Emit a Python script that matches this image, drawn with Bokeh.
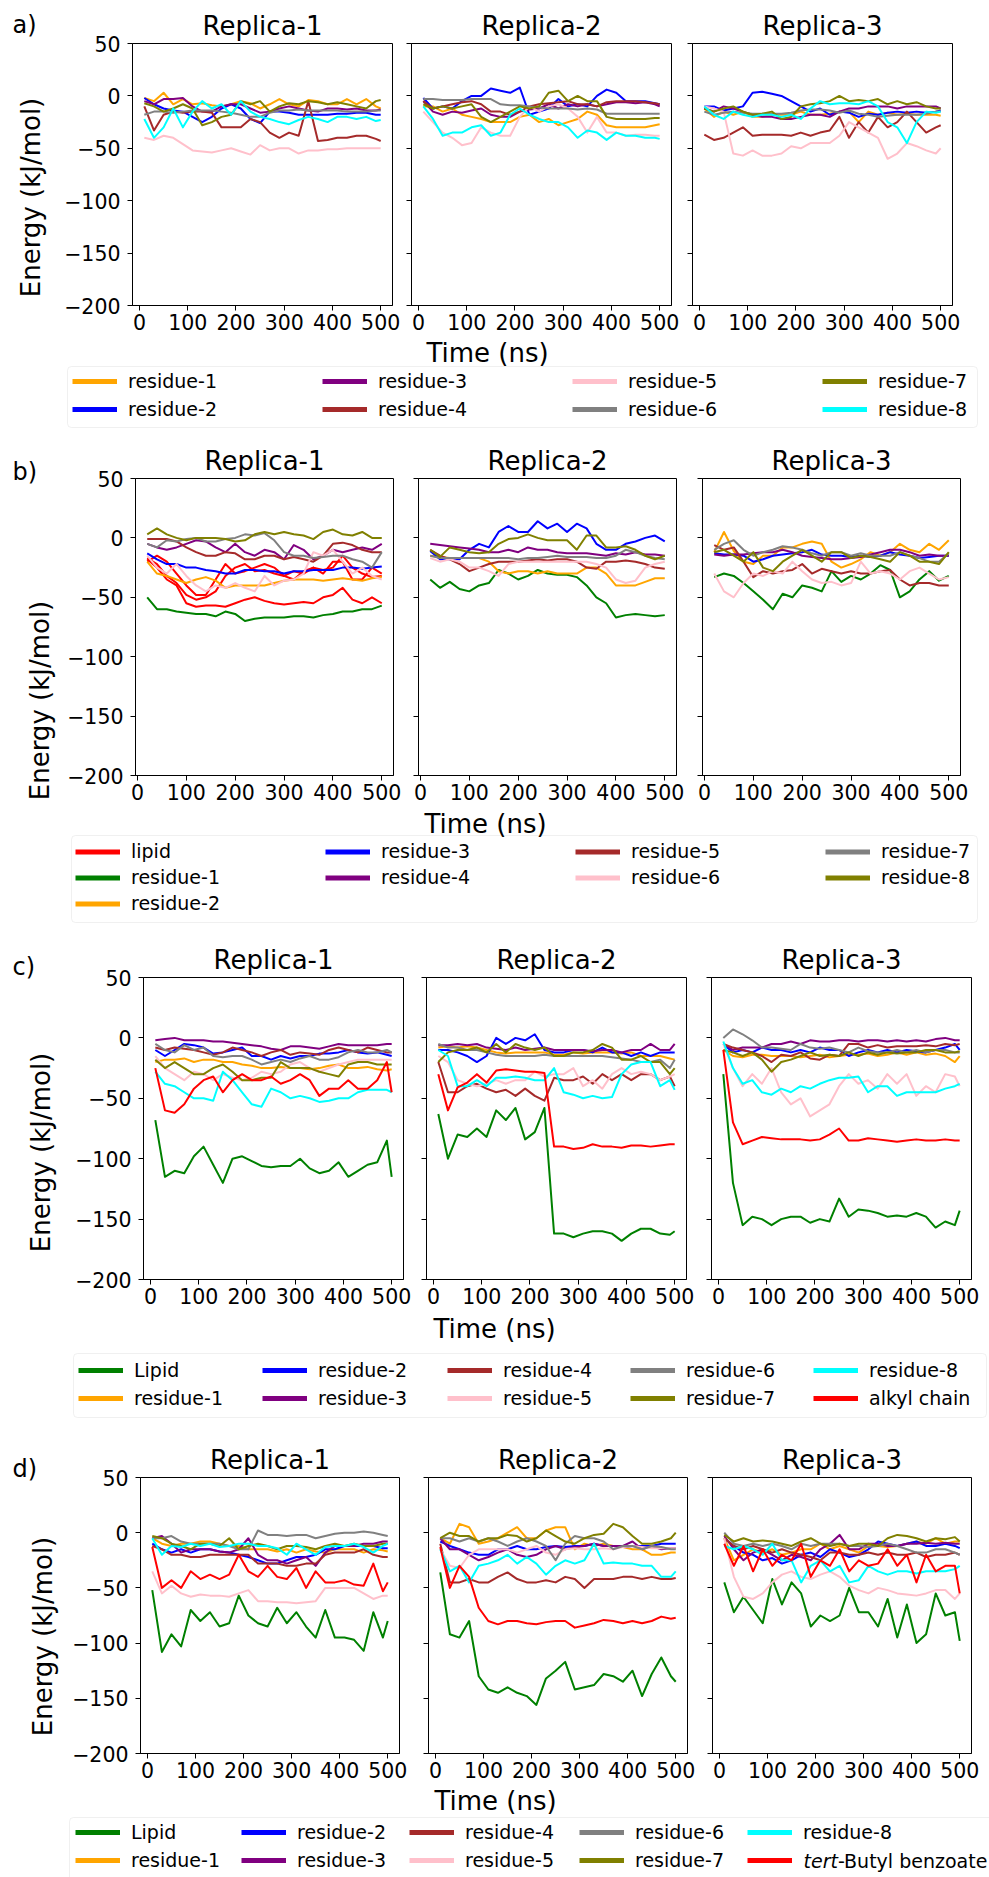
import math
from bokeh.plotting import figure
from bokeh.models import (Range1d, Label, Legend, LegendItem, FixedTicker,
                          BoxAnnotation, CustomJSTickFormatter)
from bokeh.layouts import column, row
from bokeh.embed import file_html
from bokeh.resources import INLINE

FONT = "DejaVu Sans"
PAGE_W = 989
STRIP_W = 60  # left strip holding the panel letter and the energy label

# ------------------------------------------------------------------ data
# sampling times (ns)
T = [10, 30, 50, 70, 90, 110, 130, 150, 170, 190, 210, 230, 250, 270, 290,
     310, 330, 350, 370, 390, 410, 430, 450, 470, 490, 500]
T_B = [20, 40, 60, 80, 100, 120, 140, 160, 180, 200, 220, 240, 260, 280, 300,
       320, 340, 360, 380, 400, 420, 440, 460, 480, 500]

X_TICKS = [0, 100, 200, 300, 400, 500]
Y_TICKS = [-200, -150, -100, -50, 0, 50]
REPLICAS = ["Replica-1", "Replica-2", "Replica-3"]
PANEL_LETTERS = ["a)", "b)", "c)", "d)"]

COLORS_A = {"residue-1": "orange", "residue-2": "blue", "residue-3": "purple",
            "residue-4": "brown", "residue-5": "pink", "residue-6": "gray",
            "residue-7": "olive", "residue-8": "cyan"}
COLORS_B = {"lipid": "red", "residue-1": "green", "residue-2": "orange",
            "residue-3": "blue", "residue-4": "purple", "residue-5": "brown",
            "residue-6": "pink", "residue-7": "gray", "residue-8": "olive"}
COLORS_C = {"Lipid": "green", "residue-1": "orange", "residue-2": "blue",
            "residue-3": "purple", "residue-4": "brown", "residue-5": "pink",
            "residue-6": "gray", "residue-7": "olive", "residue-8": "cyan",
            "alkyl chain": "red"}
COLORS_D = {"Lipid": "green", "residue-1": "orange", "residue-2": "blue",
            "residue-3": "purple", "residue-4": "brown", "residue-5": "pink",
            "residue-6": "gray", "residue-7": "olive", "residue-8": "cyan",
            "tert-Butyl benzoate": "red"}

# ---- a) interaction energies, replicas 1-3
A1 = {
    "residue-1": [-2, -5, 3, -8, -3, -8, -7, -9, -10, -8, -5, -7, -12, -8, -3, -8, -10, -4, -5, -8, -8, -3, -8, -3, -10, -12],
    "residue-2": [-2, -8, -12, -14, -15, -20, -25, -20, -12, -8, -12, -22, -26, -15, -15, -16, -18, -18, -18, -18, -17, -17, -16, -16, -18, -18],
    "residue-3": [-5, -8, -3, -3, -2, -10, -15, -15, -10, -8, -8, -12, -16, -15, -12, -10, -12, -14, -15, -12, -12, -13, -12, -14, -14, -13],
    "residue-4": [-10, -33, -18, -15, -16, -15, -15, -16, -30, -30, -30, -22, -25, -35, -40, -35, -38, -5, -43, -42, -40, -40, -38, -38, -41, -43],
    "residue-5": [-40, -42, -38, -40, -46, -52, -53, -54, -52, -50, -53, -56, -47, -52, -50, -50, -55, -52, -52, -51, -51, -50, -50, -50, -50, -50],
    "residue-6": [-18, -15, -15, -16, -15, -14, -14, -14, -15, -16, -18, -20, -20, -16, -14, -14, -13, -14, -14, -14, -14, -15, -15, -15, -14, -14],
    "residue-7": [-7, -10, -15, -12, -8, -12, -28, -25, -20, -18, -5, -8, -5, -15, -10, -7, -8, -5, -6, -8, -6, -8, -10, -12, -5, -4],
    "residue-8": [-22, -40, -30, -12, -30, -15, -5, -12, -8, -18, -5, -15, -20, -22, -25, -27, -23, -20, -22, -25, -20, -20, -22, -20, -24, -23],
}
A2 = {
    "residue-1": [-10, -10, -15, -12, -18, -20, -22, -25, -25, -25, -20, -18, -25, -22, -28, -25, -22, -15, -18, -28, -30, -30, -30, -30, -28, -27],
    "residue-2": [-2, -12, -10, -12, -5, 0, 0, 7, 5, 3, 8, -18, -15, -12, -3, -10, -8, -10, 0, 6, 3, -5, -5, -5, -7, -8],
    "residue-3": [-5, -15, -18, -15, -16, -14, -12, -18, -20, -20, -15, -13, -12, -8, -12, -8, -10, -8, -10, -8, -6, -6, -7, -6, -8, -10],
    "residue-4": [-5, -12, -10, -8, -6, -5, -8, -15, -15, -18, -15, -10, -8, -7, -6, -5, -8, -8, -10, -6, -5, -5, -5, -6, -7, -8],
    "residue-5": [-15, -25, -35, -40, -47, -45, -30, -35, -38, -38, -20, -10, -15, -10, -8, -12, -20, -35, -20, -35, -35, -38, -37, -37, -38, -38],
    "residue-6": [-3, -3, -4, -4, -4, -3, -3, -3, -8, -9, -9, -10, -11, -12, -12, -12, -13, -12, -13, -17, -17, -17, -17, -17, -17, -17],
    "residue-7": [-8, -12, -10, -12, -10, -8, -20, -25, -20, -15, -10, -12, -10, 3, 5, -5, 0, -5, -5, -20, -22, -22, -22, -22, -21, -21],
    "residue-8": [-10, -22, -38, -35, -35, -30, -28, -38, -35, -18, -12, -18, -22, -25, -25, -30, -40, -33, -35, -42, -35, -38, -38, -40, -40, -41],
}
A3 = {
    "residue-1": [-12, -20, -15, -18, -15, -20, -20, -18, -18, -18, -15, -18, -18, -17, -15, -15, -25, -15, -18, -16, -18, -17, -18, -18, -18, -19],
    "residue-2": [-10, -10, -14, -12, -10, 3, 4, 2, 0, -5, -10, -15, -12, -18, -15, -16, -20, -17, -18, -16, -15, -16, -15, -16, -15, -14],
    "residue-3": [-12, -15, -10, -12, -15, -18, -20, -20, -22, -22, -20, -18, -18, -20, -15, -12, -12, -10, -10, -10, -12, -10, -10, -10, -10, -12],
    "residue-4": [-37, -42, -40, -35, -30, -38, -37, -37, -37, -38, -35, -38, -35, -33, -20, -40, -25, -35, -20, -30, -25, -15, -25, -35, -30, -28],
    "residue-5": [-10, -12, -15, -55, -57, -52, -57, -57, -55, -48, -50, -45, -45, -45, -38, -25, -30, -35, -40, -60, -55, -45, -48, -52, -55, -50],
    "residue-6": [-15, -18, -16, -15, -16, -17, -17, -17, -17, -16, -14, -13, -13, -14, -16, -14, -17, -18, -20, -19, -18, -18, -18, -17, -15, -15],
    "residue-7": [-12, -15, -12, -10, -15, -18, -17, -15, -22, -20, -10, -8, -7, -5, 0, -5, -4, -5, -3, -8, -5, -8, -6, -10, -12, -12],
    "residue-8": [-10, -18, -22, -15, -18, -20, -18, -18, -20, -18, -22, -12, -5, -8, -7, -7, -8, -5, -10, -25, -30, -45, -25, -15, -16, -15],
}

# ---- b) replica 1 has three lipid contacts
B1_LIPID = [
    [-18, -25, -35, -40, -55, -58, -57, -57, -58, -55, -52, -50, -53, -55, -56, -55, -54, -55, -50, -48, -42, -52, -55, -50, -55],
    [-17, -22, -32, -38, -48, -52, -50, -45, -32, -25, -22, -28, -27, -30, -32, -35, -28, -25, -27, -25, -15, -25, -30, -33, -32],
    [-20, -15, -20, -30, -40, -48, -48, -35, -22, -30, -28, -25, -22, -25, -32, -28, -30, -25, -30, -20, -20, -35, -35, -25, -30],
]
B1 = {
    "residue-1": [-50, -60, -60, -62, -63, -64, -64, -66, -62, -64, -70, -68, -67, -67, -67, -66, -66, -67, -65, -64, -62, -62, -60, -60, -57],
    "residue-2": [-20, -30, -32, -35, -38, -35, -33, -36, -42, -40, -40, -40, -40, -38, -36, -35, -35, -35, -36, -35, -34, -35, -36, -34, -33],
    "residue-3": [-13, -18, -22, -22, -25, -25, -27, -28, -30, -30, -27, -27, -28, -28, -30, -28, -28, -27, -27, -27, -25, -25, -26, -25, -24],
    "residue-4": [-5, -8, -10, -8, -5, -2, -3, -8, -12, -5, -12, -15, -10, -12, -18, -6, -10, -18, -15, -10, -12, -10, -8, -10, -5],
    "residue-5": [-1, -1, -1, -3, -8, -12, -15, -15, -12, -13, -18, -18, -15, -15, -18, -16, -18, -20, -15, -5, -4, -6, -10, -12, -12],
    "residue-6": [-15, -25, -30, -22, -32, -40, -45, -40, -42, -38, -42, -45, -32, -40, -36, -35, -30, -12, -15, -10, -20, -30, -25, -32, -35],
    "residue-7": [-5, -8, -2, -3, -1, 0, -3, -3, -1, 0, 3, 2, 4, -2, -12, -15, -15, -17, -16, -15, -15, -18, -20, -25, -12],
    "residue-8": [3, 8, 3, 0, -2, 0, 0, 0, -1, -3, -2, 3, 5, 3, 5, 3, 2, -1, 5, 7, 3, 2, 5, 0, 0],
}
B2 = {
    "residue-1": [-35, -42, -37, -43, -45, -40, -38, -27, -30, -35, -32, -27, -30, -31, -31, -33, -40, -50, -55, -67, -65, -64, -65, -66, -65],
    "residue-2": [-15, -16, -17, -17, -17, -17, -20, -28, -30, -28, -28, -30, -28, -30, -30, -30, -25, -25, -30, -40, -40, -40, -37, -34, -34],
    "residue-3": [-11, -18, -18, -18, -10, -5, -8, 5, 10, 5, 5, 14, 8, 12, 5, 12, 8, -5, -10, -10, -5, -3, 0, 2, -3],
    "residue-4": [-5, -6, -7, -8, -9, -10, -12, -12, -10, -12, -8, -10, -10, -12, -13, -13, -13, -14, -15, -13, -14, -12, -14, -14, -15],
    "residue-5": [-10, -15, -18, -22, -28, -25, -22, -20, -20, -20, -19, -18, -19, -18, -18, -20, -25, -26, -20, -20, -19, -20, -22, -25, -26],
    "residue-6": [-17, -20, -18, -20, -25, -25, -28, -32, -22, -20, -20, -20, -20, -20, -20, -20, -20, -22, -25, -35, -38, -36, -25, -22, -20],
    "residue-7": [-15, -17, -17, -17, -17, -17, -17, -17, -17, -18, -17, -17, -16, -15, -16, -16, -16, -17, -17, -15, -10, -12, -15, -17, -18],
    "residue-8": [-10, -16, -8, -10, -12, -13, -12, -5, -1, 0, 3, 0, -2, -2, -2, -10, 2, 2, -8, -8, -7, -10, -15, -18, -15],
}
B3 = {
    "residue-1": [-33, -30, -32, -38, -45, -52, -60, -47, -50, -40, -42, -45, -28, -37, -32, -35, -30, -23, -27, -50, -45, -35, -28, -36, -32],
    "residue-2": [-12, 5, -11, -20, -22, -15, -15, -8, -8, -5, -3, -5, -20, -25, -22, -18, -12, -15, -12, -5, -10, -12, -5, -10, -2],
    "residue-3": [-13, -14, -14, -15, -20, -18, -15, -14, -13, -12, -10, -14, -15, -15, -16, -15, -16, -15, -12, -14, -15, -17, -16, -15, -15],
    "residue-4": [-14, -15, -14, -14, -13, -12, -12, -10, -12, -15, -16, -17, -18, -18, -17, -16, -14, -12, -10, -10, -12, -15, -14, -15, -15],
    "residue-5": [-6, -10, -8, -20, -33, -28, -30, -28, -27, -22, -30, -26, -28, -30, -28, -30, -30, -28, -27, -35, -40, -38, -38, -40, -40],
    "residue-6": [-30, -45, -50, -38, -30, -32, -28, -30, -20, -28, -35, -38, -37, -40, -38, -20, -30, -28, -30, -35, -28, -25, -30, -35, -33],
    "residue-7": [-10, -5, -2, -10, -15, -12, -10, -7, -8, -10, -13, -15, -12, -12, -15, -13, -15, -15, -15, -12, -15, -17, -20, -20, -13],
    "residue-8": [-12, -10, -15, -20, -12, -25, -28, -20, -15, -10, -15, -20, -12, -12, -17, -15, -16, -18, -20, -12, -15, -20, -20, -22, -12],
}

# ---- c)
C1 = {
    "Lipid": [-68, -115, -110, -112, -98, -90, -105, -120, -100, -98, -102, -106, -107, -106, -106, -100, -108, -112, -110, -103, -115, -110, -105, -103, -85, -115],
    "residue-1": [-20, -18, -18, -17, -20, -18, -18, -20, -20, -22, -23, -25, -25, -24, -25, -25, -26, -25, -23, -22, -25, -25, -24, -26, -27, -26],
    "residue-2": [-10, -15, -10, -5, -6, -8, -13, -12, -10, -8, -15, -15, -18, -15, -17, -15, -15, -13, -13, -12, -10, -12, -13, -12, -14, -15],
    "residue-3": [-2, -1, 0, -2, -2, -2, -3, -3, -4, -5, -6, -7, -9, -10, -7, -7, -8, -9, -7, -5, -6, -6, -6, -6, -5, -5],
    "residue-4": [-8, -10, -8, -9, -10, -12, -14, -12, -8, -10, -12, -15, -12, -10, -14, -12, -13, -14, -10, -8, -10, -12, -8, -10, -12, -12],
    "residue-5": [-15, -25, -30, -35, -28, -30, -35, -30, -33, -35, -33, -28, -30, -28, -22, -20, -25, -28, -25, -22, -20, -18, -18, -18, -18, -18],
    "residue-6": [-5, -10, -12, -6, -10, -8, -15, -16, -15, -15, -18, -22, -20, -18, -20, -17, -15, -18, -18, -16, -12, -10, -12, -12, -10, -12],
    "residue-7": [-18, -25, -20, -25, -30, -30, -25, -22, -28, -35, -35, -33, -33, -20, -25, -25, -25, -28, -30, -32, -22, -20, -20, -22, -22, -22],
    "residue-8": [-28, -38, -40, -45, -50, -50, -52, -28, -35, -45, -55, -57, -42, -45, -50, -48, -50, -53, -52, -50, -50, -45, -43, -43, -43, -45],
    "alkyl chain": [-25, -60, -62, -55, -42, -35, -32, -45, -35, -30, -35, -35, -32, -38, -35, -30, -35, -48, -42, -42, -35, -42, -42, -35, -20, -45],
}
C2 = {
    "Lipid": [-63, -100, -80, -82, -75, -82, -60, -68, -58, -84, -78, -58, -162, -162, -165, -162, -160, -160, -162, -168, -162, -158, -158, -162, -163, -160],
    "residue-1": [-8, -7, -8, -7, -8, -10, -12, -13, -12, -12, -12, -12, -14, -14, -12, -13, -12, -12, -12, -13, -12, -15, -15, -15, -17, -18],
    "residue-2": [-10, -10, -12, -15, -20, -15, 0, -5, 0, -2, 3, -10, -12, -12, -10, -10, -12, -8, -12, -12, -15, -12, -15, -12, -12, -12],
    "residue-3": [-6, -6, -5, -6, -5, -8, -9, -10, -8, -10, -9, -8, -10, -10, -10, -10, -11, -10, -10, -12, -10, -10, -5, -10, -10, -5],
    "residue-4": [-20, -45, -45, -40, -38, -42, -45, -43, -48, -42, -48, -52, -33, -35, -35, -32, -38, -30, -35, -30, -35, -30, -30, -35, -32, -40],
    "residue-5": [-15, -20, -35, -38, -40, -38, -35, -38, -35, -35, -28, -32, -30, -30, -25, -40, -35, -42, -30, -25, -30, -28, -30, -35, -32, -30],
    "residue-6": [-5, -8, -8, -10, -10, -12, -14, -15, -15, -15, -15, -14, -15, -15, -15, -15, -15, -15, -16, -17, -18, -20, -20, -18, -25, -18],
    "residue-7": [-20, -12, -10, -10, -8, -12, -5, -12, -5, -8, -10, -8, -15, -15, -12, -12, -10, -5, -8, -18, -18, -15, -20, -20, -30, -25],
    "residue-8": [-10, -15, -40, -40, -35, -40, -33, -33, -32, -33, -35, -35, -25, -45, -47, -50, -48, -50, -49, -30, -22, -20, -20, -40, -35, -43],
    "alkyl chain": [-30, -60, -41, -37, -30, -37, -27, -26, -27, -28, -28, -29, -90, -90, -92, -91, -88, -90, -90, -91, -89, -89, -90, -89, -88, -88],
}
C3 = {
    "Lipid": [-30, -120, -155, -148, -150, -155, -150, -148, -148, -153, -150, -152, -133, -148, -142, -143, -145, -148, -147, -148, -145, -148, -157, -152, -155, -143],
    "residue-1": [-10, -15, -16, -14, -14, -15, -15, -15, -16, -15, -14, -16, -15, -14, -14, -13, -15, -14, -12, -14, -12, -14, -13, -15, -20, -15],
    "residue-2": [-5, -12, -10, -12, -8, -10, -10, -12, -10, -12, -8, -10, -10, -15, -12, -10, -12, -10, -12, -10, -11, -12, -10, -8, -5, -10],
    "residue-3": [-5, -10, -8, -8, -8, -5, -5, -3, -5, -2, -3, -3, -2, -2, -3, -2, -2, -3, -2, -3, -2, -3, -1, 0, -2, -2],
    "residue-4": [-5, -8, -10, -12, -15, -20, -14, -15, -12, -17, -18, -14, -15, -5, -5, -8, -6, -8, -7, -7, -7, -6, -7, -5, -6, -5],
    "residue-5": [-5, -25, -40, -30, -38, -25, -45, -55, -50, -65, -60, -55, -40, -30, -38, -35, -42, -30, -38, -30, -48, -40, -45, -30, -32, -40],
    "residue-6": [0, 7, 3, -2, -8, -8, -9, -10, -5, -8, -9, -8, -10, -12, -8, -11, -12, -12, -10, -12, -10, -12, -10, -10, -12, -12],
    "residue-7": [-10, -12, -15, -12, -18, -28, -20, -18, -15, -12, -15, -14, -15, -12, -15, -12, -14, -12, -13, -12, -12, -10, -10, -12, -12, -11],
    "residue-8": [-3, -25, -38, -35, -45, -47, -42, -45, -40, -42, -38, -35, -33, -33, -32, -45, -40, -40, -48, -45, -45, -45, -45, -42, -40, -38],
    "alkyl chain": [-10, -70, -88, -85, -82, -83, -84, -84, -84, -85, -84, -80, -75, -85, -85, -83, -84, -85, -86, -85, -84, -85, -85, -84, -85, -85],
}

# ---- d)
D1 = {
    "Lipid": [-52, -108, -92, -103, -70, -80, -72, -85, -82, -57, -75, -82, -85, -68, -82, -72, -85, -95, -70, -95, -95, -97, -107, -72, -95, -80],
    "residue-1": [-5, -10, -12, -10, -10, -8, -8, -10, -12, -12, -15, -15, -15, -17, -15, -18, -15, -17, -18, -15, -15, -15, -18, -15, -16, -17],
    "residue-2": [-10, -15, -18, -15, -18, -15, -15, -17, -18, -20, -22, -25, -28, -28, -25, -22, -22, -20, -15, -15, -12, -12, -12, -12, -14, -14],
    "residue-3": [-5, -3, -10, -18, -15, -15, -15, -17, -18, -15, -5, -20, -25, -25, -28, -25, -22, -30, -18, -12, -12, -12, -10, -10, -8, -8],
    "residue-4": [-12, -15, -20, -20, -22, -22, -20, -20, -20, -20, -20, -28, -28, -28, -30, -30, -28, -28, -20, -18, -18, -18, -15, -20, -22, -22],
    "residue-5": [-35, -55, -48, -55, -58, -56, -57, -57, -58, -55, -52, -62, -62, -63, -63, -64, -63, -62, -50, -50, -50, -50, -55, -60, -57, -57],
    "residue-6": [-5, -5, -3, -8, -10, -10, -10, -10, -12, -15, -15, 2, -2, -2, -3, -2, -2, -5, -3, -1, 0, 0, 1, 0, -2, -3],
    "residue-7": [-3, -5, -10, -12, -15, -10, -10, -12, -5, -15, -12, -10, -12, -15, -12, -12, -13, -15, -12, -10, -12, -10, -12, -12, -10, -10],
    "residue-8": [-5, -20, -12, -13, -10, -12, -10, -13, -12, -10, -10, -12, -12, -14, -20, -10, -15, -20, -13, -12, -12, -10, -13, -18, -12, -10],
    "tert-Butyl benzoate": [-13, -50, -43, -50, -35, -42, -38, -42, -38, -20, -35, -40, -30, -40, -42, -32, -50, -35, -45, -45, -43, -47, -48, -28, -53, -45],
}
D2 = {
    "Lipid": [-36, -92, -95, -80, -130, -142, -145, -140, -145, -148, -156, -132, -125, -117, -142, -140, -138, -128, -130, -135, -125, -148, -128, -113, -130, -135],
    "residue-1": [-5, -10, 8, 5, -10, -8, -5, 0, 5, -5, -5, 2, 5, 5, -15, -10, -12, -10, -12, -13, -15, -15, -20, -20, -18, -18],
    "residue-2": [-8, -12, -15, -18, -20, -20, -15, -15, -12, -15, -15, -13, -12, -13, -12, -12, -10, -12, -12, -13, -12, -12, -12, -10, -10, -10],
    "residue-3": [-5, -15, -15, -20, -25, -22, -18, -15, -20, -22, -20, -15, -12, -15, -13, -12, -10, -12, -12, -12, -8, -15, -12, -15, -14, -14],
    "residue-4": [-10, -45, -45, -42, -45, -45, -40, -36, -42, -45, -45, -43, -45, -40, -42, -50, -42, -42, -42, -40, -40, -42, -40, -42, -42, -41],
    "residue-5": [-15, -30, -32, -20, -15, -15, -15, -15, -18, -15, -12, -18, -20, -15, -14, -15, -15, -14, -15, -13, -12, -13, -14, -14, -14, -14],
    "residue-6": [-5, -5, -8, -5, -8, -5, -8, -12, -8, -5, -8, -12, -25, -10, -3, -5, -5, -8, -15, -12, -12, -15, -12, -13, -15, -15],
    "residue-7": [-5, 0, -3, -3, -8, -5, -5, -2, -3, -8, -5, 2, -3, -8, -10, -5, -2, -1, 8, 5, -3, -10, -10, -8, -5, 0],
    "residue-8": [-15, -35, -30, -45, -30, -28, -25, -20, -28, -22, -28, -38, -30, -25, -28, -25, -10, -28, -27, -28, -28, -30, -30, -40, -40, -35],
    "tert-Butyl benzoate": [-13, -50, -30, -40, -68, -80, -83, -80, -80, -82, -83, -81, -80, -80, -86, -84, -82, -79, -80, -82, -80, -82, -80, -76, -78, -77],
}
D3 = {
    "Lipid": [-45, -72, -58, -70, -82, -42, -65, -45, -55, -85, -75, -80, -75, -50, -72, -72, -85, -60, -95, -65, -100, -92, -55, -75, -72, -98],
    "residue-1": [-5, -25, -20, -15, -18, -15, -20, -18, -15, -15, -10, -15, -12, -15, -18, -12, -12, -13, -12, -10, -8, -10, -5, -10, -8, -8],
    "residue-2": [-5, -12, -18, -20, -25, -23, -28, -25, -20, -18, -22, -15, -18, -22, -20, -15, -8, -10, -12, -10, -8, -12, -12, -10, -12, -14],
    "residue-3": [-3, -15, -25, -18, -15, -20, -25, -20, -22, -25, -15, -10, -2, -15, -15, -10, -10, -12, -12, -10, -10, -9, -10, -9, -10, -10],
    "residue-4": [-5, -12, -15, -12, -15, -18, -15, -18, -20, -22, -25, -18, -18, -20, -20, -18, -20, -18, -20, -20, -18, -22, -20, -20, -18, -20],
    "residue-5": [-5, -40, -58, -60, -55, -45, -38, -35, -40, -42, -38, -35, -40, -48, -52, -55, -50, -52, -55, -56, -57, -55, -52, -52, -60, -55],
    "residue-6": [0, -10, -12, -10, -12, -10, -12, -15, -10, -12, -10, -10, -10, -12, -12, -13, -12, -10, -12, -15, -18, -18, -15, -15, -18, -20],
    "residue-7": [-2, -8, -5, -8, -7, -8, -10, -12, -8, -5, -10, -12, -10, -12, -10, -10, -12, -5, -2, -3, -5, -8, -5, -6, -4, -8],
    "residue-8": [-12, -15, -12, -15, -20, -10, -25, -25, -45, -30, -25, -35, -30, -45, -43, -30, -35, -38, -35, -35, -37, -35, -35, -35, -33, -30],
    "tert-Butyl benzoate": [-10, -30, -12, -35, -15, -30, -20, -25, -10, -40, -25, -30, -15, -35, -25, -30, -28, -15, -30, -20, -45, -20, -35, -30, -30, -55],
}

LEGEND_A = [["residue-1", "residue-2"], ["residue-3", "residue-4"],
            ["residue-5", "residue-6"], ["residue-7", "residue-8"]]
LEGEND_B = [["lipid", "residue-1", "residue-2"], ["residue-3", "residue-4"],
            ["residue-5", "residue-6"], ["residue-7", "residue-8"]]
LEGEND_C = [["Lipid", "residue-1"], ["residue-2", "residue-3"], ["residue-4", "residue-5"],
            ["residue-6", "residue-7"], ["residue-8", "alkyl chain"]]
LEGEND_D = [["Lipid", "residue-1"], ["residue-2", "residue-3"], ["residue-4", "residue-5"],
            ["residue-6", "residue-7"], ["residue-8", "tert-Butyl benzoate"]]


def panel_series(d, lipids=None):
    out = []
    if lipids:
        out += [("lipid", ys) for ys in lipids]
    out += list(d.items())
    return out


# ------------------------------------------------------------------ layout (page pixels)
# text positions are the vertical middle of each label
ROWS = [
    dict(series=[panel_series(A1), panel_series(A2), panel_series(A3)], colors=COLORS_A,
         times=T, x_range=(-14.5, 524.5), fig_y=(0, 337), frame_y=(43, 305),
         fig_x=[0, 401, 681, PAGE_W], frames=[(132, 392), (411, 671), (692, 952)],
         letter_at=(12, 24), ylabel_at=(30, 197)),
    dict(series=[panel_series(B1, B1_LIPID), panel_series(B2), panel_series(B3)], colors=COLORS_B,
         times=T_B, x_range=(-4, 524), fig_y=(440, 807), frame_y=(478, 775),
         fig_x=[0, 405, 689, PAGE_W], frames=[(135, 393), (418, 676), (702, 960)],
         letter_at=(12, 471), ylabel_at=(39, 700)),
    dict(series=[panel_series(C1), panel_series(C2), panel_series(C3)], colors=COLORS_C,
         times=T, x_range=(-14.5, 524.5), fig_y=(935, 1311), frame_y=(977, 1279),
         fig_x=[0, 414, 698, PAGE_W], frames=[(143, 403), (426, 686), (711, 971)],
         letter_at=(12, 966), ylabel_at=(40, 1152)),
    dict(series=[panel_series(D1), panel_series(D2), panel_series(D3)], colors=COLORS_D,
         times=T, x_range=(-14.5, 524.5), fig_y=(1430, 1785), frame_y=(1477, 1753),
         fig_x=[0, 413, 700, PAGE_W], frames=[(140, 399), (428, 687), (712, 971)],
         letter_at=(12, 1468), ylabel_at=(42, 1636)),
]

LEGENDS = [
    dict(columns=LEGEND_A, colors=COLORS_A, fig_y=(337, 440), box=(67, 977, 366, 427),
         rows=[381, 409], cols=[72, 322, 572, 822], glyph_h=24, spacing=4,
         xlabel_at=(487, 352)),
    dict(columns=LEGEND_B, colors=COLORS_B, fig_y=(807, 935), box=(71, 977, 835, 922),
         rows=[851, 877, 903], cols=[75, 325, 575, 825], glyph_h=23, spacing=3,
         xlabel_at=(485, 823)),
    dict(columns=LEGEND_C, colors=COLORS_C, fig_y=(1311, 1430), box=(73, 986, 1353, 1417),
         rows=[1370, 1398], cols=[78, 262, 447, 630, 813], glyph_h=24, spacing=4,
         xlabel_at=(494, 1328)),
    dict(columns=LEGEND_D, colors=COLORS_D, fig_y=(1785, 1877), box=(69, 995, 1817, 1885),
         rows=[1832, 1860], cols=[75, 241, 409, 579, 747], glyph_h=24, spacing=4,
         xlabel_at=(495, 1800)),
]

MINUS_FMT = "return tick < 0 ? '\u2212' + Math.abs(tick) : '' + tick;"
BLANK_FMT = "return '';"


def strip_figure(width, height):
    """A plain figure whose frame fills the whole canvas (1 data unit = 1 px)."""
    p = figure(width=width, height=height, x_range=Range1d(0, width), y_range=Range1d(0, height),
               output_backend="svg", toolbar_location=None,
               x_axis_location=None, y_axis_location=None,
               min_border_left=0, min_border_right=0, min_border_top=0, min_border_bottom=0)
    p.title.text = ""
    p.title.standoff = 0
    p.title.visible = False
    p.background_fill_color = "white"
    p.border_fill_color = "white"
    p.outline_line_color = None
    p.xgrid.visible = False
    p.ygrid.visible = False
    return p


def text(x, y, s, size, align="center", angle=0.0, style="normal"):
    return Label(x=x, y=y, text=s, text_font=FONT, text_font_size=size, text_color="black",
                 text_align=align, text_baseline="middle", angle=angle, text_font_style=style)


def build_row(k, spec):
    top, bottom = spec["fig_y"]
    ftop, fbot = spec["frame_y"]
    fig_h = bottom - top

    left = strip_figure(STRIP_W, fig_h)
    lx, ly = spec["letter_at"]
    left.add_layout(text(lx, fig_h - (ly - top), PANEL_LETTERS[k], "24px", align="left"))
    yx, yy = spec["ylabel_at"]
    left.add_layout(text(yx, fig_h - (yy - top), "Energy (kJ/mol)", "26px", angle=math.pi / 2))

    panels = []
    for i in range(3):
        x0 = max(spec["fig_x"][i], STRIP_W)
        x1 = spec["fig_x"][i + 1]
        fl, fr = spec["frames"][i]
        p = figure(width=x1 - x0, height=fig_h, title=REPLICAS[i],
                   x_range=Range1d(*spec["x_range"]), y_range=Range1d(-200, 50),
                   output_backend="svg", toolbar_location=None,
                   min_border_left=fl - x0, min_border_right=x1 - fr,
                   min_border_top=ftop - top, min_border_bottom=bottom - fbot)
        p.title.align = "center"
        p.title.text_font = FONT
        p.title.text_font_size = "26px"
        p.title.text_font_style = "normal"
        p.title.text_color = "black"
        p.title.standoff = 6
        p.background_fill_color = "white"
        p.border_fill_color = "white"
        p.outline_line_color = "black"
        p.outline_line_width = 1
        p.xgrid.visible = False
        p.ygrid.visible = False
        for ax in (p.xaxis[0], p.yaxis[0]):
            ax.axis_line_color = "black"
            ax.major_tick_line_color = "black"
            ax.major_tick_out = 5
            ax.major_tick_in = 0
            ax.minor_tick_line_color = None
            ax.major_label_text_font = FONT
            ax.major_label_text_font_size = "20.5px"
            ax.major_label_text_color = "black"
        p.xaxis[0].ticker = FixedTicker(ticks=X_TICKS)
        p.yaxis[0].ticker = FixedTicker(ticks=Y_TICKS)
        p.xaxis[0].major_label_standoff = 3
        if i == 0:
            p.yaxis[0].formatter = CustomJSTickFormatter(code=MINUS_FMT)
            p.yaxis[0].major_label_standoff = 7
        else:
            p.yaxis[0].formatter = CustomJSTickFormatter(code=BLANK_FMT)
            p.yaxis[0].major_label_standoff = 0

        for name, ys in spec["series"][i]:
            p.line(spec["times"], ys, line_color=spec["colors"][name], line_width=2,
                   line_join="round")
        panels.append(p)
    # the strip sits outside the inner row so its frame keeps the full strip height
    return row(left, row(*panels))


def build_legend(spec):
    top, bottom = spec["fig_y"]
    h = bottom - top
    p = strip_figure(PAGE_W, h)

    tx, ty = spec["xlabel_at"]
    p.add_layout(text(tx, h - (ty - top), "Time (ns)", "26px"))

    bl, br, bt, bb = spec["box"]
    p.add_layout(BoxAnnotation(left=bl, right=br, top=h - (bt - top), bottom=h - (bb - top),
                               fill_color="white", fill_alpha=1.0,
                               line_color="#cccccc", line_width=1, border_radius=4,
                               level="underlay"))
    gh, sp = spec["glyph_h"], spec["spacing"]
    first_center = spec["rows"][0] - top
    nan = float("nan")
    for j, names in enumerate(spec["columns"]):
        items = []
        for r_i, name in enumerate(names):
            proxy = p.line(x=[nan], y=[nan], line_color=spec["colors"][name], line_width=5)
            label = name
            if name.startswith("tert-"):
                label = " "
                lx = spec["cols"][j] + 45 + 11
                ly = h - (spec["rows"][r_i] - top)
                p.add_layout(text(lx, ly, "tert", "19px", align="left", style="italic"))
                p.add_layout(text(lx + 34.4, ly, "-Butyl benzoate", "19px", align="left"))
            items.append(LegendItem(label=label, renderers=[proxy]))
        n = len(names)
        leg_h = n * gh + (n - 1) * sp
        leg_bottom = first_center - gh / 2 + leg_h
        legend = Legend(items=items, location=(spec["cols"][j], h - leg_bottom),
                        orientation="vertical", padding=0, margin=0, spacing=sp,
                        glyph_width=45, glyph_height=gh, label_height=gh,
                        label_standoff=11, label_text_font=FONT,
                        label_text_font_size="19px", label_text_color="black",
                        background_fill_alpha=0, border_line_color=None)
        p.add_layout(legend)
    return p


blocks = []
for k, (rspec, lspec) in enumerate(zip(ROWS, LEGENDS)):
    blocks.append(build_row(k, rspec))
    blocks.append(build_legend(lspec))

page = column(*blocks)

with open("out.html", "w", encoding="utf-8") as fh:
    fh.write(file_html(page, INLINE))
